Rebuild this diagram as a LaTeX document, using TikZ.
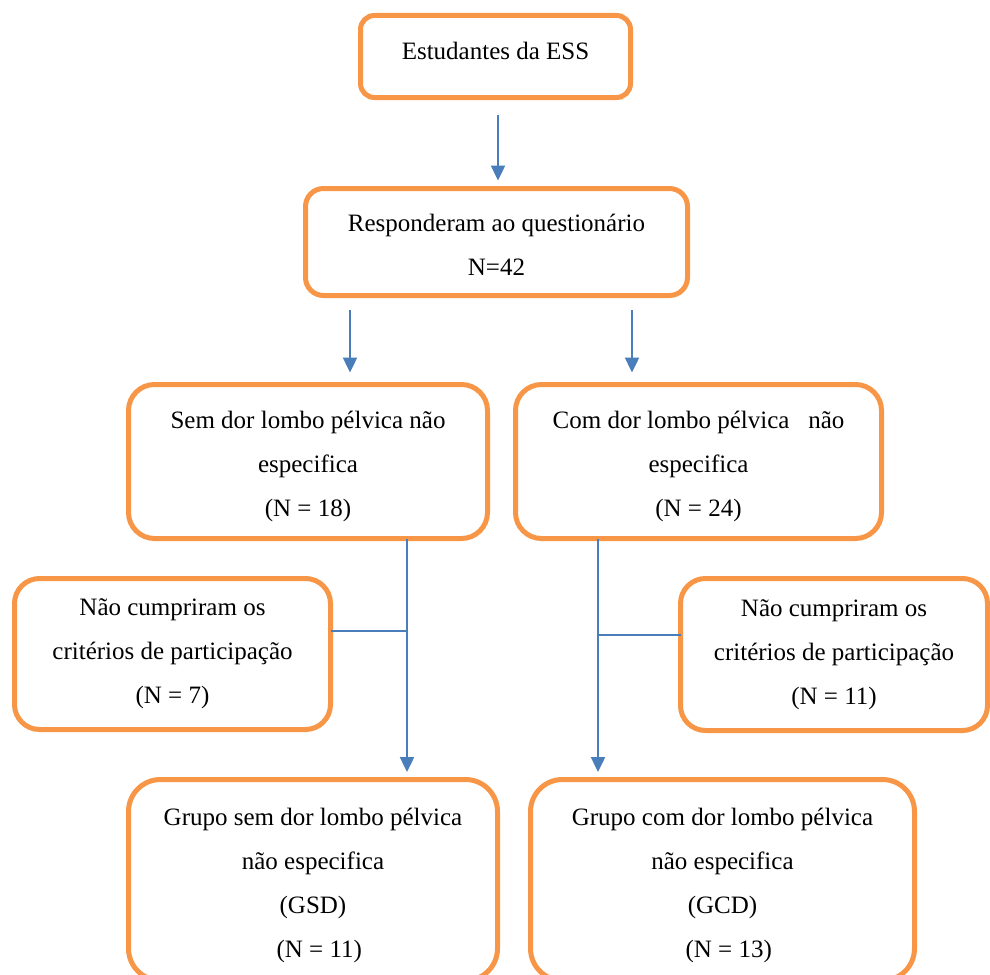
\documentclass[tikz,border=0pt]{standalone}
\usepackage{fontspec}
\setmainfont{Liberation Serif}
\usetikzlibrary{arrows.meta}
\definecolor{boxorange}{HTML}{F79646}
\definecolor{arrowblue}{HTML}{4A7EBB}
\tikzset{
	box/.style={draw=boxorange, line width=5pt, rounded corners=#1, align=center, inner sep=0pt, outer sep=0pt, font=\fontsize{25}{44}\selectfont},
	box/.default=22pt,
	arr/.style={draw=arrowblue, line width=2.4pt, -{Triangle[length=15pt,width=14pt]}},
	link/.style={draw=arrowblue, line width=1.5pt}
}
\begin{document}
\begin{tikzpicture}[x=1pt,y=-1pt]
	\useasboundingbox (0,0) rectangle (990,974);
	\node[box=14pt, minimum width=270pt, minimum height=82pt, text depth=12pt] (est) at (495.5,56.5) {Estudantes da ESS};
	\node[box=18pt, minimum width=382pt, minimum height=107pt, text height=67pt] (resp) at (496.5,242) {Responderam ao questionário\\N=42};
	\node[box=26pt, minimum width=359pt, minimum height=154pt, text height=114.5pt] (sem) at (308,461.5) {Sem dor lombo pélvica não\\especifica\\(N = 18)};
	\node[box=26pt, minimum width=366pt, minimum height=154pt, text height=114.5pt] (com) at (698.5,461.5) {Com dor lombo pélvica\ \ \ não\\especifica\\(N = 24)};
	\node[box=25pt, minimum width=316pt, minimum height=151pt] (naoL) at (172.5,654) {Não cumpriram os\\critérios de participação\\(N = 7)};
	\node[box=25pt, minimum width=307pt, minimum height=152pt] (naoR) at (834,654.5) {Não cumpriram os\\critérios de participação\\(N = 11)};
	\node[box=32pt, minimum width=369pt, minimum height=201pt, text height=159.5pt] (gsd) at (313,880) {Grupo sem dor lombo pélvica\\não especifica\\(GSD)\\\ \ (N = 11)};
	\node[box=32pt, minimum width=384pt, minimum height=201pt, text height=159.5pt] (gcd) at (722.5,880) {Grupo com dor lombo pélvica\\não especifica\\(GCD)\\\ \ (N = 13)};
	\draw[arr] ([xshift=2.5pt,yshift=-17.5pt]est.south) -- ([xshift=1.5pt,yshift=8pt]resp.north);
	\draw[arr] ([xshift=-146.5pt,yshift=-14.5pt]resp.south) -- ([xshift=42pt,yshift=12pt]sem.north);
	\draw[arr] ([xshift=135.5pt,yshift=-14.5pt]resp.south) -- ([xshift=-66.5pt,yshift=12pt]com.north);
	\draw[arr] ([xshift=99pt]sem.south) -- ([xshift=94pt,yshift=7.5pt]gsd.north);
	\draw[arr] ([xshift=-100.5pt]com.south) -- ([xshift=-124.5pt,yshift=7.5pt]gcd.north);
	\draw[link] ([yshift=23pt]naoL.east) -- ++(76.5pt,0);
	\draw[link] ([yshift=19.5pt]naoR.west) -- ++(-83pt,0);
\end{tikzpicture}
\end{document}
